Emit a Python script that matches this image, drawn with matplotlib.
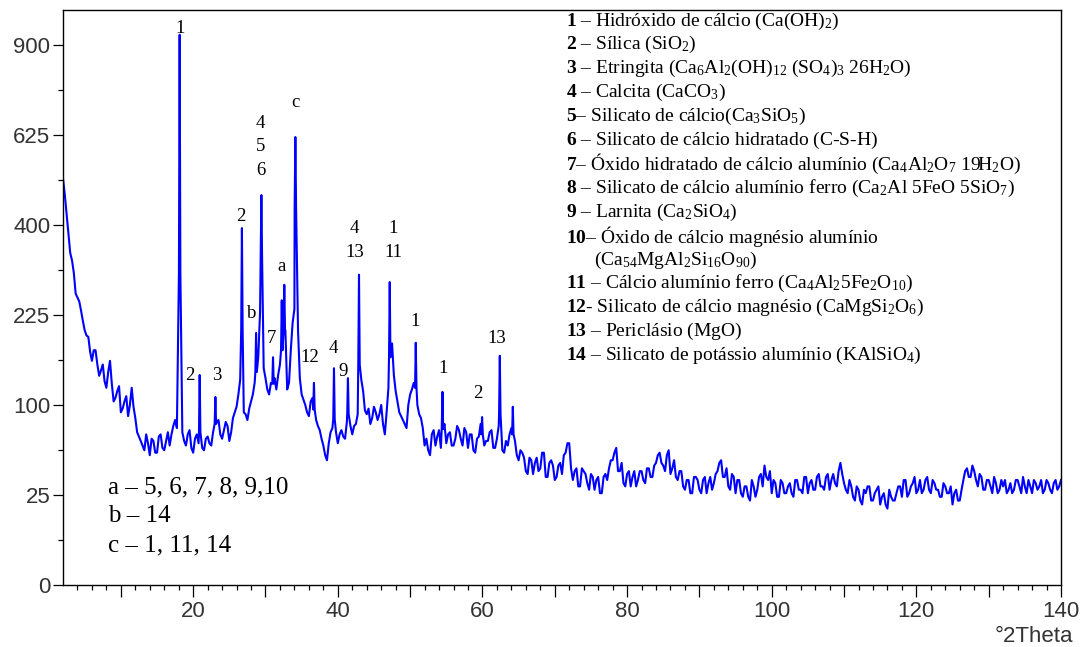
import numpy as np
import matplotlib
matplotlib.use("Agg")
import matplotlib.pyplot as plt
from matplotlib.ticker import FixedLocator, NullFormatter

plt.rcParams["font.family"] = ["Liberation Serif", "DejaVu Serif"]
plt.rcParams["mathtext.fontset"] = "custom"
plt.rcParams["mathtext.rm"] = "Liberation Serif"
plt.rcParams["mathtext.bf"] = "Liberation Serif:bold"
plt.rcParams["mathtext.default"] = "regular"

# fundo do difratograma, passo de 0.5 graus a partir de 2 graus
bg_start = 2.0
bg_step = 0.5
bg_counts = [
    510, 425, 340, 300, 255, 232, 200, 190, 155, 170,   # 2.0 - 6.5
    135, 150, 120, 155, 104, 116, 92, 104, 88, 120,     # 7.0 - 11.5
    86, 68, 60, 70, 52, 64, 54, 70, 56, 72,             # 12.0 - 16.5
    70, 84, 96, 72, 60, 74, 54, 70, 64, 56,             # 17.0 - 21.5
    68, 60, 76, 84, 66, 82, 64, 86, 98, 130,            # 22.0 - 26.5
    92, 84, 104, 126, 160, 200, 132, 112, 140, 118,     # 27.0 - 31.5
    150, 215, 118, 170, 235, 200, 112, 100, 88, 108,    # 32.0 - 36.5
    84, 74, 60, 48, 72, 86, 62, 74, 66, 92,             # 37.0 - 41.5
    70, 80, 128, 116, 90, 80, 98, 84, 100, 70,          # 42.0 - 46.5
    120, 180, 116, 92, 84, 76, 112, 126, 100, 86,       # 47.0 - 51.5
    60, 56, 70, 60, 74, 78, 62, 72, 60, 78,             # 52.0 - 56.5
    66, 76, 58, 70, 54, 68, 78, 64, 72, 58,             # 57.0 - 61.5
    66, 92, 54, 60, 76, 64, 48, 54, 40, 50,             # 62.0 - 66.5
    38, 50, 42, 54, 36, 48, 34, 44, 38, 54,             # 67.0 - 71.5
    62, 34, 42, 30, 40, 32, 38, 28, 36, 26,             # 72.0 - 76.5
    38, 42, 48, 58, 40, 32, 38, 30, 40, 34,             # 77.0 - 81.5
    40, 32, 42, 36, 46, 54, 44, 52, 38, 48,             # 82.0 - 86.5
    34, 40, 28, 34, 26, 36, 28, 34, 26, 36,             # 87.0 - 91.5
    32, 40, 48, 36, 30, 38, 26, 34, 24, 30,             # 92.0 - 96.5
    22, 30, 28, 38, 44, 34, 26, 32, 24, 32,             # 97.0 - 101.5
    26, 32, 24, 34, 28, 36, 26, 34, 28, 38,             # 102.0 - 106.5
    30, 36, 28, 38, 30, 46, 32, 26, 30, 22,             # 107.0 - 111.5
    28, 20, 26, 30, 22, 28, 20, 26, 18, 24,             # 112.0 - 116.5
    22, 30, 24, 34, 26, 32, 26, 34, 28, 36,             # 117.0 - 121.5
    26, 32, 28, 24, 30, 26, 20, 28, 22, 34,             # 122.0 - 126.5
    42, 36, 40, 30, 36, 28, 34, 26, 32, 28,             # 127.0 - 131.5
    30, 26, 32, 28, 34, 26, 30, 34, 26, 32,             # 132.0 - 136.5
    30, 26, 34, 28, 32, 28, 34,                         # 137.0 - 140.0
]
# leituras intermediarias, 2.25, 2.75, ... 139.75
mid_counts = [
    470, 380, 325, 262, 248, 215, 192, 168, 170, 150,   # 2.25 - 6.75
    142, 128, 140, 125, 108, 122, 96, 110, 100, 98,     # 7.25 - 11.75
    72, 64, 56, 62, 66, 54, 68, 58, 64, 60,             # 12.25 - 16.75
    78, 76, 92, 64, 70, 58, 66, 62, 58, 66,             # 17.25 - 21.75
    62, 72, 82, 70, 74, 78, 72, 92, 112, 150,           # 22.25 - 26.75
    90, 96, 112, 150, 230, 145, 118, 126, 132, 136,     # 27.25 - 31.75
    180, 200, 126, 212, 300, 132, 106, 92, 104, 96,     # 32.25 - 36.75
    78, 66, 52, 62, 76, 72, 70, 68, 82, 78,             # 37.25 - 41.75
    78, 90, 130, 94, 96, 86, 92, 90, 80, 92,            # 42.25 - 46.75
    180, 136, 104, 88, 80, 100, 118, 130, 90, 76,       # 47.25 - 51.75
    66, 52, 74, 68, 58, 80, 70, 60, 66, 74,             # 52.25 - 56.75
    60, 72, 70, 56, 66, 80, 60, 64, 74, 58,             # 57.25 - 61.75
    78, 56, 64, 70, 80, 52, 56, 50, 38, 48,             # 62.25 - 66.75
    46, 40, 54, 36, 46, 44, 36, 46, 52, 62,             # 67.25 - 71.75
    42, 40, 30, 42, 38, 28, 36, 34, 26, 36,             # 72.25 - 76.75
    34, 48, 54, 40, 46, 30, 40, 36, 30, 40,             # 77.25 - 81.75
    34, 42, 36, 44, 52, 46, 40, 56, 42, 36,             # 82.25 - 86.75
    40, 30, 34, 26, 36, 34, 26, 36, 32, 28,             # 87.25 - 91.75
    38, 46, 36, 42, 28, 36, 34, 26, 30, 24,             # 92.25 - 96.75
    34, 24, 36, 30, 36, 40, 34, 24, 34, 26,             # 97.25 - 101.75
    30, 26, 34, 28, 26, 36, 32, 28, 36, 30,             # 102.25 - 106.75
    28, 38, 34, 32, 40, 38, 28, 34, 24, 30,             # 107.25 - 111.75
    22, 28, 30, 22, 26, 30, 24, 20, 28, 22,             # 112.25 - 116.75
    26, 30, 34, 24, 30, 36, 28, 26, 34, 28,             # 117.25 - 121.75
    34, 28, 24, 32, 26, 30, 26, 22, 28, 40,             # 122.25 - 126.75
    36, 44, 34, 38, 28, 34, 30, 36, 26, 34,             # 127.25 - 131.75
    34, 28, 26, 34, 30, 36, 26, 30, 34, 28,             # 132.25 - 136.75
    34, 28, 32, 26, 34, 30,                             # 137.25 - 139.75
]

# picos: posicao, topo e pe
peak_2theta = [18.13, 20.9, 23.07, 26.74, 28.7, 29.43, 31.04, 32.25, 32.6, 34.13,
               36.7, 39.47, 41.4, 42.93, 47.18, 50.78, 54.47, 59.95, 62.4, 64.2]
peak_top = [934, 136, 109, 393, 196, 469, 160, 250, 278, 619,
            126, 145, 132, 297, 283, 181, 115, 87, 162, 98]
peak_foot = [300, 72, 80, 200, 140, 330, 125, 170, 200, 440,
             95, 85, 90, 150, 160, 120, 75, 70, 90, 70]

# rotulos dos picos (texto, 2theta, contagens)
peak_labels = [
    ("1", 18.2, 955), ("2", 19.6, 135), ("3", 23.2, 135), ("2", 26.6, 418),
    ("b", 28.05, 228), ("4", 29.33, 656), ("5", 29.33, 592), ("6", 29.33, 529),
    ("7", 30.8, 187), ("a", 32.24, 312), ("c", 34.13, 717), ("12", 36.1, 159),
    ("4", 39.34, 173), ("9", 40.72, 140), ("4", 42.34, 393), ("13", 42.34, 342),
    ("1", 47.63, 393), ("11", 47.63, 342), ("1", 50.68, 215), ("1", 54.55, 145),
    ("2", 59.4, 113), ("13", 61.94, 188),
]

legend_lines = [
    r"$\mathbf{1}$ – Hidróxido de cálcio (Ca(OH)$_2$)",
    r"$\mathbf{2}$ – Sílica (SiO$_2$)",
    r"$\mathbf{3}$ – Etringita (Ca$_6$Al$_2$(OH)$_{12}$ (SO$_4$)$_3$ 26H$_2$O)",
    r"$\mathbf{4}$ – Calcita (CaCO$_3$)",
    r"$\mathbf{5}$– Silicato de cálcio(Ca$_3$SiO$_5$)",
    r"$\mathbf{6}$ – Silicato de cálcio hidratado (C-S-H)",
    r"$\mathbf{7}$– Óxido hidratado de cálcio alumínio (Ca$_4$Al$_2$O$_7$ 19H$_2$O)",
    r"$\mathbf{8}$ – Silicato de cálcio alumínio ferro (Ca$_2$Al 5FeO 5SiO$_7$)",
    r"$\mathbf{9}$ – Larnita (Ca$_2$SiO$_4$)",
    r"$\mathbf{10}$– Óxido de cálcio magnésio alumínio",
    r"(Ca$_{54}$MgAl$_2$Si$_{16}$O$_{90}$)",
    r"$\mathbf{11}$ – Cálcio alumínio ferro (Ca$_4$Al$_2$5Fe$_2$O$_{10}$)",
    r"$\mathbf{12}$- Silicato de cálcio magnésio (CaMgSi$_2$O$_6$)",
    r"$\mathbf{13}$ – Periclásio (MgO)",
    r"$\mathbf{14}$ – Silicato de potássio alumínio (KAlSiO$_4$)",
]
abc_lines = ["a – 5, 6, 7, 8, 9,10", "b – 14", "c – 1, 11, 14"]

y_major = [0, 25, 100, 225, 400, 625, 900]

# monta a serie
bg_2theta = bg_start + bg_step * np.arange(len(bg_counts))
mid_2theta = bg_start + bg_step / 2 + bg_step * np.arange(len(mid_counts))
all_2theta = np.concatenate([bg_2theta, mid_2theta])
all_counts = np.concatenate([bg_counts, mid_counts]).astype(float)
pk = np.array(peak_2theta)
keep = np.array([np.min(np.abs(pk - t)) > 0.13 for t in all_2theta])
xs = list(all_2theta[keep])
ys = list(all_counts[keep])
for t, top, foot in zip(peak_2theta, peak_top, peak_foot):
    xs += [t - 0.1, t, t + 0.1]
    ys += [foot, top, foot]
xs = np.array(xs)
ys = np.array(ys)
order = np.argsort(xs, kind="stable")
xs, ys = xs[order], ys[order]

fig = plt.figure(figsize=(10.88, 6.47), dpi=100)
ax = fig.add_axes([63 / 1088, 62 / 647, 998 / 1088, 575 / 647])
ax.set_yscale("function",
              functions=(lambda v: np.sqrt(np.clip(v, 0, None)), lambda v: np.square(v)))
ax.plot(xs, ys, color="#0000ff", lw=1.5)
ax.set_xlim(2, 140)
ax.set_ylim(0, 1020)

ax.xaxis.set_major_locator(FixedLocator(list(range(10, 141, 10))))
ax.set_xticklabels([str(v) if v % 20 == 0 else "" for v in range(10, 141, 10)])
ax.xaxis.set_minor_locator(FixedLocator(list(range(4, 141, 2))))
ax.yaxis.set_major_locator(FixedLocator(y_major))
ax.set_yticklabels([str(v) for v in y_major])
ax.yaxis.set_minor_locator(FixedLocator([(k + 2.5) ** 2 for k in range(0, 30, 5)]))
ax.yaxis.set_minor_formatter(NullFormatter())

ax.tick_params(axis="x", which="major", length=8.5, width=0.9, pad=3)
ax.tick_params(axis="x", which="minor", length=3.6, width=0.9)
ax.tick_params(axis="y", which="major", length=7, width=0.9, pad=2)
ax.tick_params(axis="y", which="minor", length=3.6, width=0.9)
ax.tick_params(axis="both", which="both", direction="out", labelsize=16,
               labelcolor="#333333", labelfontfamily="Liberation Sans")
for s in ax.spines.values():
    s.set_linewidth(1.0)

for txt, t, c in peak_labels:
    ax.text(t, c, txt, ha="center", va="center", fontsize=13.5)

for i, line in enumerate(legend_lines):
    y = 21 + 23.9 * i
    x = 594 if line.startswith("(") else 566
    ax.text((x - 63) / 998, (585 - y) / 575, line, transform=ax.transAxes,
            ha="left", va="center", fontsize=14)

for i, line in enumerate(abc_lines):
    y = 487 + 29 * i
    ax.text((108 - 63) / 998, (585 - y) / 575, line, transform=ax.transAxes,
            ha="left", va="center", fontsize=18)

fig.text(1073 / 1088, 1 - 637 / 647, "°2Theta", ha="right", va="center",
         fontsize=16, color="#333333", family="Liberation Sans")

fig.savefig("out.png", dpi=100)
